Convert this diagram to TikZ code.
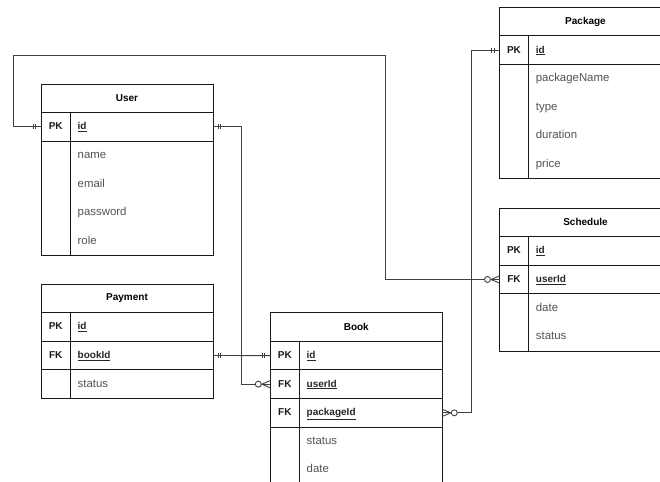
\documentclass[tikz,border=0pt]{standalone}
\usepackage{fontspec}
\setmainfont{Liberation Sans}

\tikzset{
  tbox/.style={draw=black!90, line width=0.9pt, minimum width=172pt, inner sep=0pt, outer sep=0pt},
  thead/.style={tbox, minimum height=28.6pt, font=\bfseries},
  krow/.style={tbox, minimum height=28.6pt},
  kname/.style={font=\bfseries, text=black!90, inner sep=0pt, text height=8.2pt, text depth=2.3pt},
  fkey/.style={anchor=west, font=\bfseries, text=black!85, inner sep=0pt, text height=8.2pt, text depth=2.3pt},
  fname/.style={anchor=west, text=black!68, inner sep=0pt, text height=8.2pt, text depth=2.3pt},
  kcol/.style={draw=black!90, line width=0.9pt},
  link/.style={draw=black!75, line width=0.9pt},
  pics/mandone/.style={code={\draw[link] (-5.5,-2.6) -- (-5.5,2.6) (-7.7,-2.6) -- (-7.7,2.6);}},
  pics/zeromany/.style={code={\draw[link] (0,-3.6) -- (-8.5,0) -- (0,3.6); \draw[link, fill=white] (-12,0) circle (3pt);}}
}

\begin{document}
\begin{tikzpicture}[x=1pt, y=-1pt, font=\fontsize{11.4}{13}\selectfont]

\useasboundingbox (0,0) rectangle (660,481);
\clip (0,0) rectangle (660,481);

% User
\node[thead] (user) at (127,98.3) {User};
\node[krow] (user-id) at (127,126.9) {};
\node[tbox, minimum height=114.4pt] (user-rest) at (127,198.4) {};
\draw[kcol] (70.3,112.6) -- (70.3,255.6);
\node[kname] (user-pk) at (55.7,126.9) {PK};
\node[fkey] (user-idtxt) at (77.5,126.9) {\underline{id}};
\node[fname] (user-name) at (77.5,155.5) {name};
\node[fname] (user-email) at (77.5,184.1) {email};
\node[fname] (user-pass) at (77.5,212.7) {password};
\node[fname] (user-role) at (77.5,241.3) {role};

% Payment
\node[thead] (pay) at (127,298.3) {Payment};
\node[krow] (pay-id) at (127,326.9) {};
\node[krow] (pay-bid) at (127,355.5) {};
\node[krow] (pay-rest) at (127,384.1) {};
\draw[kcol] (70.3,312.6) -- (70.3,398.4);
\node[kname] (pay-pk) at (55.7,326.9) {PK};
\node[kname] (pay-fk) at (55.7,355.5) {FK};
\node[fkey] (pay-idtxt) at (77.5,326.9) {\underline{id}};
\node[fkey] (pay-bidtxt) at (77.5,355.5) {\underline{bookId}};
\node[fname] (pay-status) at (77.5,384.1) {status};

% Book
\node[thead] (book) at (356.3,327) {Book};
\node[krow] (book-id) at (356.3,355.6) {};
\node[krow] (book-uid) at (356.3,384.2) {};
\node[krow] (book-pkg) at (356.3,412.8) {};
\node[tbox, minimum height=85.8pt] (book-rest) at (356.3,470) {};
\draw[kcol] (299.3,341.3) -- (299.3,490);
\node[kname] (book-pk) at (284.9,355.6) {PK};
\node[kname] (book-fk1) at (284.9,384.2) {FK};
\node[kname] (book-fk2) at (284.9,412.8) {FK};
\node[fkey] (book-idtxt) at (306.5,355.6) {\underline{id}};
\node[fkey] (book-uidtxt) at (306.5,384.2) {\underline{userId}};
\node[fkey] (book-pkgtxt) at (306.5,412.8) {\underline{packageId}};
\node[fname] (book-status) at (306.5,441.4) {status};
\node[fname] (book-date) at (306.5,470) {date};

% Package
\node[thead] (pkg) at (585.5,21.6) {Package};
\node[krow] (pkg-id) at (585.5,50.2) {};
\node[tbox, minimum height=114.4pt] (pkg-rest) at (585.5,121.7) {};
\draw[kcol] (528.5,35.9) -- (528.5,178.9);
\node[kname] (pkg-pk) at (514,50.2) {PK};
\node[fkey] (pkg-idtxt) at (535.7,50.2) {\underline{id}};
\node[fname] (pkg-name) at (535.7,78.8) {packageName};
\node[fname] (pkg-type) at (535.7,107.4) {type};
\node[fname] (pkg-dur) at (535.7,136) {duration};
\node[fname] (pkg-price) at (535.7,164.6) {price};

% Schedule
\node[thead] (sched) at (585.5,222.3) {Schedule};
\node[krow] (sched-id) at (585.5,250.9) {};
\node[krow] (sched-uid) at (585.5,279.5) {};
\node[tbox, minimum height=57.2pt] (sched-rest) at (585.5,322.4) {};
\draw[kcol] (528.5,236.6) -- (528.5,351);
\node[kname] (sched-pk) at (514,250.9) {PK};
\node[kname] (sched-fk) at (514,279.5) {FK};
\node[fkey] (sched-idtxt) at (535.7,250.9) {\underline{id}};
\node[fkey] (sched-uidtxt) at (535.7,279.5) {\underline{userId}};
\node[fname] (sched-date) at (535.7,308.1) {date};
\node[fname] (sched-status) at (535.7,336.7) {status};

% relations
\coordinate (loop) at (385.5,55);
\draw[link] (user-id.west) -- ++(-28,0) |- (loop) |- (sched-uid.west);
\draw[link] (user-id.east) -- ++(28,0) |- (book-uid.west);
\draw[link] (pay-bid.east) -- (book-id.west);
\draw[link] (book-pkg.east) -- ++(29,0) |- (pkg-id.west);

\pic at (user-id.west) {mandone};
\pic[rotate=180] at (user-id.east) {mandone};
\pic at (sched-uid.west) {zeromany};
\pic at (book-uid.west) {zeromany};
\pic[rotate=180] at (pay-bid.east) {mandone};
\pic at (book-id.west) {mandone};
\pic[rotate=180] at (book-pkg.east) {zeromany};
\pic at (pkg-id.west) {mandone};

\end{tikzpicture}
\end{document}
